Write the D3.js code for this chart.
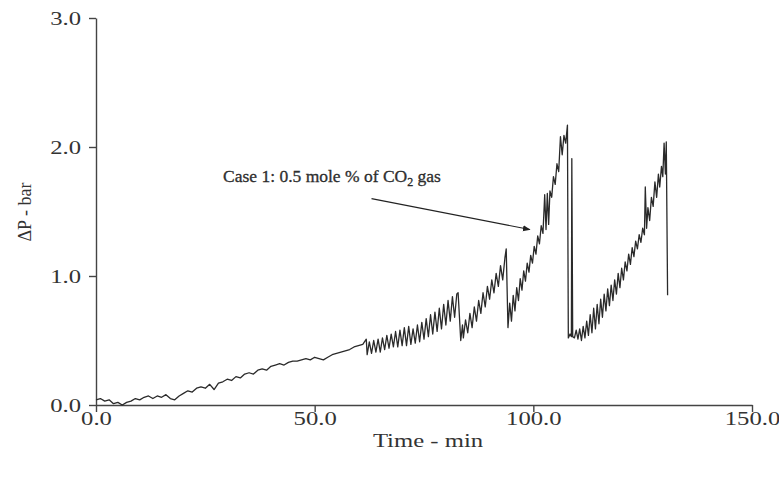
<!DOCTYPE html>
<html>
<head>
<meta charset="utf-8">
<script src="https://cdn.jsdelivr.net/npm/d3@7"></script>
<style>
body{margin:0;background:#fff;}
svg{display:block;}
text{font-family:"Liberation Serif","Times New Roman",serif;fill:#333;}
</style>
</head>
<body>
<svg id="chart" width="779" height="480"></svg>
<script>
// Data: time (min) and ΔP (bar)
const timeMin = [
 0,1,2,3,4,5,6,7,8,9,10,11,12,13,14,15,16,17,18,19,20,21,22,23,24,25,26,27,28,29,30,31,32,33,34,35,36,37,38,39,40,41,42,43,44,45,46,47,48,49,50,51,52,53,54,55,56,57,58,59,60,61,61.8,
 62.0,62.5,63,63.5,64,64.5,65,65.5,66,66.5,67,67.5,68,68.5,69,69.5,70,70.5,71,71.5,72,72.5,73,73.5,74,74.5,75,75.5,76,76.5,77,77.5,78,78.5,79,79.5,80,80.5,81,81.5,82,82.5,82.8,
 83.4,83.8,84,84.5,85,85.5,86,86.5,87,87.5,88,88.5,89,89.5,90,90.5,91,91.5,92,92.5,93,93.5,93.8,
 94.2,94.6,95.0,95.4,95.8,96.2,96.6,97.0,97.4,97.8,98.2,98.6,99.0,99.4,99.8,100.2,100.6,101.0,101.4,101.8,102.2,102.6,102.9,103.2,103.5,103.8,104.2,104.6,105.0,105.4,105.8,106.2,106.6,107.0,107.4,107.8,
 108.0,108.4,108.7,108.8,109.0,109.4,109.8,110.2,110.6,111.0,111.4,111.8,112.2,112.6,113.0,113.4,113.8,114.2,114.6,115.0,115.4,115.8,116.2,116.6,117.0,117.4,117.8,118.2,118.6,119.0,119.4,119.8,120.2,120.6,121.0,121.4,121.8,122.2,122.6,123.0,123.4,123.8,124.2,124.6,125.0,125.4,125.6,125.9,126.2,126.6,127.0,127.4,127.8,128.2,128.6,128.9,129.3,129.6,129.9,130.2,130.4,130.7
];
const deltaP = [
 0.04,0.05,0.03,0.04,0.01,0.02,0.00,0.02,0.03,0.05,0.04,0.06,0.07,0.05,0.07,0.06,0.08,0.05,0.04,0.07,0.09,0.11,0.10,0.13,0.14,0.13,0.16,0.12,0.17,0.18,0.20,0.19,0.22,0.21,0.24,0.25,0.24,0.27,0.28,0.27,0.30,0.31,0.32,0.31,0.33,0.34,0.34,0.35,0.36,0.35,0.37,0.36,0.35,0.37,0.39,0.40,0.41,0.42,0.43,0.45,0.46,0.47,0.51,
 0.39,0.49,0.40,0.50,0.41,0.51,0.41,0.52,0.43,0.54,0.44,0.55,0.45,0.57,0.45,0.58,0.46,0.60,0.46,0.61,0.47,0.59,0.48,0.62,0.49,0.64,0.51,0.67,0.53,0.70,0.55,0.72,0.57,0.75,0.59,0.78,0.62,0.81,0.65,0.84,0.68,0.86,0.87,
 0.50,0.62,0.52,0.66,0.56,0.71,0.60,0.76,0.65,0.81,0.71,0.87,0.76,0.92,0.82,0.97,0.87,1.02,0.92,1.08,0.97,1.14,1.21,
 0.60,0.79,0.65,0.85,0.73,0.91,0.81,0.98,0.89,1.04,0.96,1.10,1.03,1.16,1.10,1.23,1.17,1.31,1.25,1.39,1.33,1.63,1.36,1.64,1.40,1.66,1.61,1.77,1.71,1.87,1.81,2.08,1.94,2.09,2.03,2.17,
 0.52,0.55,0.53,1.91,0.53,0.52,0.58,0.51,0.59,0.50,0.61,0.52,0.65,0.54,0.70,0.56,0.75,0.59,0.78,0.63,0.82,0.68,0.86,0.73,0.90,0.77,0.93,0.81,0.97,0.86,1.02,0.91,1.06,0.97,1.11,1.04,1.17,1.09,1.22,1.15,1.27,1.21,1.32,1.26,1.37,1.32,1.69,1.37,1.53,1.43,1.61,1.54,1.73,1.61,1.79,1.69,1.85,1.77,2.03,1.79,2.04,0.85
];
const xTicks = [0, 50, 100, 150];
const yTicks = [0, 1, 2, 3];
const xTitle = "Time - min";
const yTitle = "ΔP - bar";

const svg = d3.select("#chart");
const x = d3.scaleLinear().domain([0, 150]).range([96, 752]);
const y = d3.scaleLinear().domain([0, 3]).range([405, 18]);
const sx = 1.3;

// axes
const xAxis = svg.append("g").attr("transform", "translate(0,405)")
  .call(d3.axisBottom(x).tickValues(xTicks).tickFormat(d3.format(".1f")).tickSize(7).tickSizeOuter(0));
const yAxis = svg.append("g").attr("transform", "translate(96,0)")
  .call(d3.axisLeft(y).tickValues(yTicks).tickFormat(d3.format(".1f")).tickSize(7).tickSizeOuter(0));
[xAxis, yAxis].forEach(g => {
  g.select(".domain").attr("stroke", "#444").attr("stroke-width", 1.4);
  g.selectAll(".tick line").attr("stroke", "#444").attr("stroke-width", 1.4);
  g.selectAll(".tick text").style("font-family", "'Liberation Serif', serif").style("font-size", "19px")
    .attr("fill", "#333").attr("transform", `scale(${sx},1)`);
});
xAxis.selectAll(".tick text").attr("y", 20).attr("dy", 0);
yAxis.selectAll(".tick text").attr("x", -15 / sx).attr("dy", "0.35em");

// titles
svg.append("text").attr("transform", `translate(428,447) scale(${sx},1)`).attr("text-anchor", "middle")
  .style("font-size", "19px").text(xTitle);
svg.append("text").attr("transform", "translate(31,212) rotate(-90)").attr("text-anchor", "middle")
  .style("font-size", "18px").text(yTitle);

// line
const pts = timeMin.map((t, i) => [t, deltaP[i]]);
svg.append("path").datum(pts)
  .attr("fill", "none").attr("stroke", "#2a2a2a").attr("stroke-width", 1.3).attr("stroke-linejoin", "round")
  .attr("d", d3.line().x(d => x(d[0])).y(d => y(d[1])));

// annotation
const ann = svg.append("text").attr("x", 223).attr("y", 182).style("font-size", "17.5px")
  .attr("fill", "#222").attr("stroke", "#222").attr("stroke-width", 0.3);
ann.append("tspan").text("Case 1: 0.5 mole % of CO");
ann.append("tspan").attr("dy", 4).style("font-size", "12px").text("2");
ann.append("tspan").attr("dy", -4).text(" gas");

svg.append("defs").append("marker").attr("id", "arr").attr("viewBox", "0 0 10 10")
  .attr("refX", 9).attr("refY", 5).attr("markerWidth", 7).attr("markerHeight", 7).attr("orient", "auto")
  .append("path").attr("d", "M0,1 L10,5 L0,9 z").attr("fill", "#222");
svg.append("line").attr("x1", x(63)).attr("y1", y(1.6)).attr("x2", x(99.2)).attr("y2", y(1.36))
  .attr("stroke", "#222").attr("stroke-width", 1.1).attr("marker-end", "url(#arr)");
</script>
</body>
</html>
